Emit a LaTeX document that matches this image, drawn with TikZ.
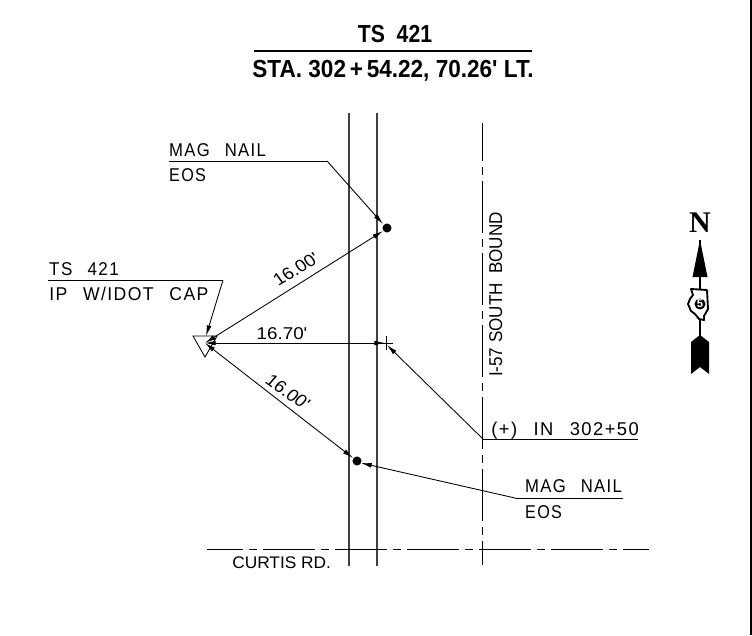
\documentclass[tikz,border=0pt]{standalone}
\usepackage{fontspec}
\usetikzlibrary{arrows.meta}
\setmainfont{Liberation Sans}[LetterSpace=8,WordSpace=2.5]
\newfontfamily\plainfont{Liberation Sans}
\newfontfamily\titlefont{Liberation Sans}
\newfontfamily\northfont{Liberation Serif}
\tikzset{
  cadline/.style={line width=0.9pt,draw=black},
  thinline/.style={line width=0.65pt,draw=black},
  roadline/.style={line width=0.9pt,draw=black!75},
  cl/.style={line width=0.75pt,draw=black,dash pattern=on 39pt off 4.5pt on 6pt off 4.5pt},
  lead/.style={thinline,-{Latex[length=8pt,width=3.6pt]}},
  dimline/.style={thinline,{Latex[length=8pt,width=3.6pt]}-{Latex[length=8pt,width=3.6pt]}},
  note/.style={inner sep=0pt,anchor=base west,font=\fontsize{13.9pt}{13.9pt}\selectfont,transform shape},
  dimtext/.style={inner sep=0pt,font=\plainfont\fontsize{12.8pt}{12.8pt}\selectfont,xscale=1.1,transform shape},
  ttl/.style={inner sep=0pt,anchor=base,font=\titlefont\bfseries\fontsize{18.5pt}{18.5pt}\selectfont,transform shape},
  dotmark/.style={circle,fill=black,inner sep=0pt,minimum size=6.8pt},
}
\begin{document}
\begin{tikzpicture}[x=0.75pt,y=-0.75pt]
\useasboundingbox (0,0) rectangle (752,635);
% frame
\draw[line width=1.5pt,draw=black] (751,0) -- (751,635);
% title
\node[ttl,xscale=0.86] (t1) at (395,43) {TS\ \ 421};
\node[ttl,xscale=0.915] (t2) at (393,77.5) {STA. 302\,+\,54.22, 70.26' LT.};
\coordinate (tl) at (254,51); \coordinate (tr) at (532,51);
\draw[cadline] (tl) -- (tr);
% road lines
\coordinate (r1a) at (349,113); \coordinate (r1b) at (349,566);
\coordinate (r2a) at (377,113); \coordinate (r2b) at (377,566);
\draw[roadline] (r1a) -- (r1b);
\draw[roadline] (r2a) -- (r2b);
\coordinate (sba) at (482,123); \coordinate (sbb) at (482,565);
\draw[cl,dash phase=10.5pt] (sba) -- (sbb);
\coordinate (cra) at (207,549); \coordinate (crb) at (649,549);
\draw[cl,dash phase=12pt] (cra) -- (crb);
\node[inner sep=0pt,anchor=base west,font=\plainfont\fontsize{12.6pt}{12.6pt}\selectfont,xscale=1.03,transform shape] (curtis) at (232,568) {CURTIS RD.};
\node[inner sep=0pt,anchor=base,rotate=90,font=\plainfont\fontsize{13.9pt}{13.9pt}\selectfont,xscale=0.92,transform shape] (sb) at (502,294.5) {I-57\ SOUTH\ \ BOUND};
% points
\node[dotmark] (n1) at (387,228) {};
\node[dotmark] (n2) at (357,461) {};
\coordinate (cross) at (386,343);
\coordinate (ch1) at (386,336); \coordinate (ch2) at (386,350);
\coordinate (ch3) at (379,343); \coordinate (ch4) at (393,343);
\draw[thinline] (ch1) -- (ch2);
\draw[thinline] (ch3) -- (ch4);
% triangle
\coordinate (ta) at (193,336); \coordinate (tb) at (217,336); \coordinate (tc) at (205,357);
\draw[thinline] (ta) -- (tb) -- (tc) -- cycle;
\coordinate (o) at (205,343);
% dimensions
\coordinate (d1) at (383,231); \coordinate (d3) at (353,458); \coordinate (d2) at (385,343);
\draw[dimline] (o) -- (d1);
\draw[dimline] (o) -- (d2);
\draw[dimline] (o) -- (d3);
\node[dimtext,rotate=33] (l1) at (296,269) {16.00'};
\node[dimtext] (l2) at (282,334) {16.70'};
\node[dimtext,rotate=-38] (l3) at (288,392) {16.00'};
% leaders
\node[note,xscale=0.9] (a1) at (169,156) {MAG NAIL};
\node[note,xscale=0.87] (a2) at (169,181) {EOS};
\coordinate (a0) at (169,161); \coordinate (a3) at (327,161); \coordinate (a4) at (383,224);
\draw[thinline] (a0) -- (a3);
\draw[lead] (a3) -- (a4);
\node[note,xscale=0.92] (b1) at (49,275) {TS 421};
\node[note,xscale=0.95] (b2) at (49,300) {IP W/IDOT CAP};
\coordinate (b0) at (48,280); \coordinate (b3) at (223,280); \coordinate (b4) at (206,336);
\draw[thinline] (b0) -- (b3);
\draw[lead] (b3) -- (b4);
\node[note,xscale=0.99] (c1) at (491,435) {(+) IN 302+50};
\coordinate (c0) at (638,439); \coordinate (c3) at (483,439); \coordinate (c4) at (387,345);
\draw[thinline] (c0) -- (c3);
\draw[lead] (c3) -- (c4);
\node[note,xscale=0.9] (e1) at (525,492) {MAG NAIL};
\node[note,xscale=0.87] (e2) at (525,518) {EOS};
\coordinate (e0) at (623,498); \coordinate (e3) at (515,498); \coordinate (e4) at (361,463);
\draw[thinline] (e0) -- (e3);
\draw[lead] (e3) -- (e4);
% north arrow
\node[inner sep=0pt,anchor=base,font=\northfont\bfseries\fontsize{22.5pt}{22.5pt}\selectfont] (north) at (700,232) {N};
\coordinate (tip) at (700,240);
\coordinate (il) at (700,289); \coordinate (ilb) at (700,320); \coordinate (tail) at (700,336);
\fill (tip) -- (707.5,277) -- (692.5,277) -- cycle;
\draw[line width=1pt] (tip) -- (il);
\draw[line width=1pt] (ilb) -- (tail);
\fill (700,335) -- (709,342) -- (709,374) -- (700,367) -- (691,374) -- (691,342) -- cycle;
\draw[line width=1.4pt,line join=round] (691,289) -- (707,290) -- (708,309) -- (704,316) -- (704,320) -- (699,319) -- (695,314) -- (691,311) -- (688,304) -- (690,299) -- (693,295) -- cycle;
\fill (700,304) circle[radius=5.5];
\node[inner sep=0pt,text=white,font=\titlefont\bfseries\fontsize{8.5pt}{8.5pt}\selectfont] (five) at (700,304) {5};
\end{tikzpicture}
\end{document}
